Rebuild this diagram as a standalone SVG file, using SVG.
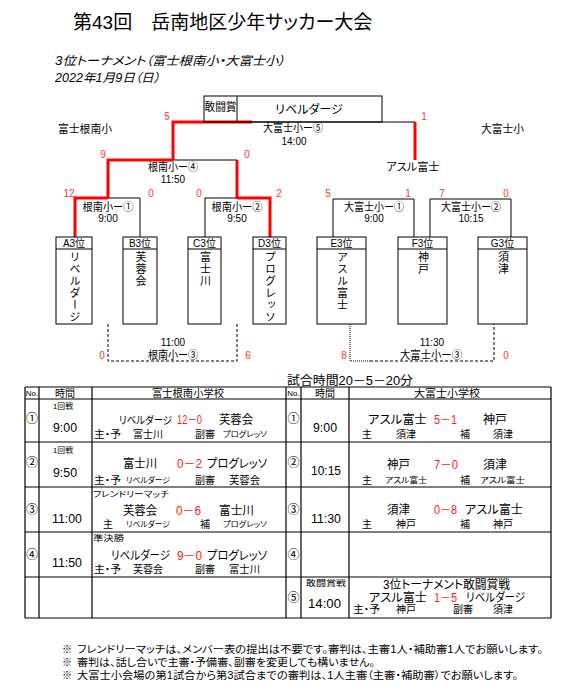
<svg xmlns="http://www.w3.org/2000/svg" width="566" height="699" viewBox="0 0 566 699">
<style>
text{font-family:"Liberation Sans","Noto Sans CJK JP",sans-serif;fill:#000;font-feature-settings:"palt"}
.ttl{font-size:19px}
.sub{font-size:12px;font-style:italic}
.l11{font-size:11px}
.l10{font-size:10px}
.l12{font-size:12px}
.sm{font-size:8px}
.tm{font-size:13px}
.sc{font-size:10px;fill:#ff3333;text-anchor:middle}
.rd{fill:#ff2020}
.c{text-anchor:middle}
.v{font-size:11px;writing-mode:vertical-rl;letter-spacing:1px}
.bk{stroke:#000;stroke-width:1;fill:none}
.red{stroke:#ff0000;stroke-width:3;fill:none}
.dash{stroke:#000;stroke-width:1;fill:none;stroke-dasharray:3,2}
.dot{stroke:#000;stroke-width:1;fill:none;stroke-dasharray:1,1}
.grid{stroke:#000;stroke-width:1.2;fill:none}
</style>
<rect width="566" height="699" fill="#fff"/>
<g id="title">
<text class="ttl" x="73" y="28.5">第43回　岳南地区少年サッカー大会</text>
<text class="sub" x="55" y="64.5" textLength="230" lengthAdjust="spacingAndGlyphs">3位トーナメント（富士根南小・大富士小）</text>
<text class="sub" x="55" y="81.5" textLength="105" lengthAdjust="spacingAndGlyphs">2022年1月9日（日）</text>
</g>
<g id="connectors">
<path class="bk" d="M252,122 H415"/>
<path class="red" d="M173,160 V122 H252"/>
<path class="red" d="M415,122 V160"/>
<path class="bk" d="M173,160 H237"/>
<path class="red" d="M108,198 V160 H173"/>
<path class="red" d="M237,160 V198"/>
<path class="bk" d="M108,198 H140 V237"/>
<path class="red" d="M75,237 V198 H108"/>
<path class="bk" d="M205,237 V198 H237"/>
<path class="red" d="M237,198 H270 V237"/>
<path class="bk" d="M333,237 V199 H414 V237"/>
<path class="bk" d="M430,237 V199 H511 V237"/>
<path class="dash" d="M108,324 V361 H237 V324"/>
<path class="dot" d="M350,324 V361 H370"/>
<path class="dash" d="M370,361 H494 V324"/>
</g>
<g id="final">
<rect class="bk" x="204" y="96" width="178" height="26"/>
<line class="bk" x1="237" y1="96" x2="237" y2="122"/>
<text class="l11" x="204.5" y="111" textLength="32" lengthAdjust="spacingAndGlyphs">敢闘賞</text>
<text class="l12 c" x="309" y="113.5">リベルダージ</text>
<text class="l11 c" x="293" y="132" textLength="60" lengthAdjust="spacingAndGlyphs">大富士小ー⑤</text>
<text class="l10 c" x="294" y="144.6">14:00</text>
</g>
<g id="labels">
<text class="l11" x="58" y="133" textLength="54" lengthAdjust="spacingAndGlyphs">富士根南小</text>
<text class="l11" x="481" y="133" textLength="43" lengthAdjust="spacingAndGlyphs">大富士小</text>
<text class="l11 c" x="413" y="171" textLength="53" lengthAdjust="spacingAndGlyphs">アスル富士</text>
</g>
<g id="semi">
<text class="l11 c" x="173" y="171" textLength="50" lengthAdjust="spacingAndGlyphs">根南小ー④</text>
<text class="l10 c" x="173" y="182.6">11:50</text>
</g>
<g id="r1">
<text class="l11 c" x="108" y="211" textLength="51" lengthAdjust="spacingAndGlyphs">根南小ー①</text>
<text class="l10 c" x="108" y="221.6">9:00</text>
<text class="l11 c" x="237" y="211" textLength="51" lengthAdjust="spacingAndGlyphs">根南小ー②</text>
<text class="l10 c" x="237" y="221.6">9:50</text>
<text class="l11 c" x="374" y="211" textLength="60" lengthAdjust="spacingAndGlyphs">大富士小ー①</text>
<text class="l10 c" x="374" y="221.6">9:00</text>
<text class="l11 c" x="471" y="211" textLength="60" lengthAdjust="spacingAndGlyphs">大富士小ー②</text>
<text class="l10 c" x="471" y="221.6">10:15</text>
</g>
<g id="scores">
<text class="sc" x="167" y="119.6">5</text>
<text class="sc" x="424" y="119.6">1</text>
<text class="sc" x="103" y="157.6">9</text>
<text class="sc" x="247" y="157.6">0</text>
<text class="sc" x="69" y="196.6">12</text>
<text class="sc" x="151" y="196.6">0</text>
<text class="sc" x="199" y="196.6">0</text>
<text class="sc" x="279" y="196.6">2</text>
<text class="sc" x="328" y="196.6">5</text>
<text class="sc" x="408" y="196.6">1</text>
<text class="sc" x="442" y="196.6">7</text>
<text class="sc" x="506" y="196.6">0</text>
</g>
<g id="teamA3">
<rect class="bk" x="56" y="237" width="36" height="87"/><line class="bk" x1="56" y1="249" x2="92" y2="249"/>
<text class="l10 c" x="74" y="246.7">A3位</text><text class="v" x="74" y="251">リベルダージ</text>
</g>
<g id="teamB3">
<rect class="bk" x="123" y="237" width="34" height="87"/><line class="bk" x1="123" y1="249" x2="157" y2="249"/>
<text class="l10 c" x="140" y="246.7">B3位</text><text class="v" x="140" y="251">芙蓉会</text>
</g>
<g id="teamC3">
<rect class="bk" x="188" y="237" width="33" height="87"/><line class="bk" x1="188" y1="249" x2="221" y2="249"/>
<text class="l10 c" x="204.5" y="246.7">C3位</text><text class="v" x="204.5" y="251">富士川</text>
</g>
<g id="teamD3">
<rect class="bk" x="253" y="237" width="33" height="87"/><line class="bk" x1="253" y1="249" x2="286" y2="249"/>
<text class="l10 c" x="269.5" y="246.7">D3位</text><text class="v" x="269.5" y="251">プログレッソ</text>
</g>
<g id="teamE3">
<rect class="bk" x="317" y="237" width="49" height="87"/><line class="bk" x1="317" y1="249" x2="366" y2="249"/>
<text class="l10 c" x="341.5" y="246.7">E3位</text><text class="v" x="341.5" y="251">アスル富士</text>
</g>
<g id="teamF3">
<rect class="bk" x="398" y="237" width="49" height="87"/><line class="bk" x1="398" y1="249" x2="447" y2="249"/>
<text class="l10 c" x="422.5" y="246.7">F3位</text><text class="v" x="422.5" y="251">神戸</text>
</g>
<g id="teamG3">
<rect class="bk" x="478" y="237" width="49" height="87"/><line class="bk" x1="478" y1="249" x2="527" y2="249"/>
<text class="l10 c" x="502.5" y="246.7">G3位</text><text class="v" x="502.5" y="251">須津</text>
</g>
<g id="third">
<text class="l10 c" x="173" y="345.6">11:00</text>
<text class="l11 c" x="173" y="359" textLength="50" lengthAdjust="spacingAndGlyphs">根南小ー③</text>
<text class="sc" x="102" y="358.6">0</text>
<text class="sc" x="248" y="358.6">6</text>
<text class="l10 c" x="432" y="345.6">11:30</text>
<text class="l11 c" x="431" y="359" textLength="62" lengthAdjust="spacingAndGlyphs">大富士小ー③</text>
<text class="sc" x="344" y="358.6">8</text>
<text class="sc" x="506" y="358.6">0</text>
</g>
<g id="table">
<text class="l12" x="287" y="385" textLength="126" lengthAdjust="spacingAndGlyphs">試合時間20－5－20分</text>
<path class="grid" d="M25,387 H551 M25,399 H551 M25,442 H551 M25,487 H551 M25,532 H551 M25,577 H551 M25,618 H551 M25,387 V618 M39,387 V618 M92,387 V618 M286,387 V618 M301,387 V618 M349,387 V618 M551,387 V618"/>
<text class="sm c" x="32" y="396">No.</text>
<text class="l10 c" x="65" y="397">時間</text>
<text class="l10 c" x="188" y="397" textLength="72" lengthAdjust="spacingAndGlyphs">富士根南小学校</text>
<text class="sm c" x="293.5" y="396">No.</text>
<text class="l10 c" x="325" y="397">時間</text>
<text class="l10 c" x="447" y="397" textLength="66" lengthAdjust="spacingAndGlyphs">大富士小学校</text>

<text class="sm" x="53" y="409" textLength="20" lengthAdjust="spacingAndGlyphs">1回戦</text>
<text class="l12 c" x="32" y="423">①</text>
<text class="tm" x="53" y="431.7" textLength="24" lengthAdjust="spacingAndGlyphs">9:00</text>
<text x="119" y="423.5" style="font-size:10.5px" textLength="53" lengthAdjust="spacingAndGlyphs">リベルダージ</text>
<text class="l12 rd" x="177" y="423.5" textLength="25" lengthAdjust="spacingAndGlyphs">12－0</text>
<text class="l12" x="219" y="423.5" textLength="34" lengthAdjust="spacingAndGlyphs">芙蓉会</text>
<text class="l10" x="94" y="437.8" textLength="27" lengthAdjust="spacingAndGlyphs">主・予</text>
<text class="l10" x="133" y="437.8" textLength="30" lengthAdjust="spacingAndGlyphs">富士川</text>
<text class="l10" x="195" y="437.8" textLength="20" lengthAdjust="spacingAndGlyphs">副審</text>
<text class="sm" x="223" y="437" textLength="44" lengthAdjust="spacingAndGlyphs">プログレッソ</text>

<text class="sm" x="53" y="453" textLength="20" lengthAdjust="spacingAndGlyphs">1回戦</text>
<text class="l12 c" x="32" y="467">②</text>
<text class="tm" x="53" y="476.7" textLength="24" lengthAdjust="spacingAndGlyphs">9:50</text>
<text class="l12" x="123" y="467.5" textLength="34" lengthAdjust="spacingAndGlyphs">富士川</text>
<text class="l12 rd" x="177" y="467.5" textLength="25" lengthAdjust="spacingAndGlyphs">0－2</text>
<text class="l12" x="207" y="467.5" textLength="60" lengthAdjust="spacingAndGlyphs">プログレッソ</text>
<text class="l10" x="94" y="483.8" textLength="27" lengthAdjust="spacingAndGlyphs">主・予</text>
<text class="sm" x="126" y="483" textLength="44" lengthAdjust="spacingAndGlyphs">リベルダージ</text>
<text class="l10" x="195" y="483.8" textLength="20" lengthAdjust="spacingAndGlyphs">副審</text>
<text class="l10" x="229" y="483.8" textLength="31" lengthAdjust="spacingAndGlyphs">芙蓉会</text>

<text class="sm" x="93" y="497" textLength="76" lengthAdjust="spacingAndGlyphs">フレンドリーマッチ</text>
<text class="l12 c" x="32" y="514">③</text>
<text class="tm" x="52" y="522.7" textLength="30" lengthAdjust="spacingAndGlyphs">11:00</text>
<text class="l12" x="123" y="514.5" textLength="34" lengthAdjust="spacingAndGlyphs">芙蓉会</text>
<text class="l12 rd" x="176" y="514.5" textLength="25" lengthAdjust="spacingAndGlyphs">0－6</text>
<text class="l12" x="219" y="514.5" textLength="35" lengthAdjust="spacingAndGlyphs">富士川</text>
<text class="l10" x="103" y="527.8">主</text>
<text class="sm" x="126" y="527" textLength="44" lengthAdjust="spacingAndGlyphs">リベルダージ</text>
<text class="l10" x="200" y="527.8">補</text>
<text class="sm" x="223" y="527" textLength="44" lengthAdjust="spacingAndGlyphs">プログレッソ</text>

<text class="sm" x="93" y="541" textLength="31" lengthAdjust="spacingAndGlyphs">準決勝</text>
<text class="l12 c" x="32" y="559">④</text>
<text class="tm" x="52" y="566.7" textLength="30" lengthAdjust="spacingAndGlyphs">11:50</text>
<text class="l12" x="111" y="559.5" textLength="59" lengthAdjust="spacingAndGlyphs">リベルダージ</text>
<text class="l12 rd" x="177" y="559.5" textLength="25" lengthAdjust="spacingAndGlyphs">9－0</text>
<text class="l12" x="207" y="559.5" textLength="60" lengthAdjust="spacingAndGlyphs">プログレッソ</text>
<text class="l10" x="94" y="572.8" textLength="27" lengthAdjust="spacingAndGlyphs">主・予</text>
<text class="l10" x="133" y="572.8" textLength="30" lengthAdjust="spacingAndGlyphs">芙蓉会</text>
<text class="l10" x="195" y="572.8" textLength="20" lengthAdjust="spacingAndGlyphs">副審</text>
<text class="l10" x="229" y="572.8" textLength="31" lengthAdjust="spacingAndGlyphs">富士川</text>

<text class="l12 c" x="293.5" y="423">①</text>
<text class="tm" x="313" y="431.7" textLength="24" lengthAdjust="spacingAndGlyphs">9:00</text>
<text class="l12" x="368" y="423.5" textLength="59" lengthAdjust="spacingAndGlyphs">アスル富士</text>
<text class="l12 rd" x="434" y="423.5" textLength="23" lengthAdjust="spacingAndGlyphs">5－1</text>
<text class="l12" x="483" y="423.5" textLength="24" lengthAdjust="spacingAndGlyphs">神戸</text>
<text class="l10" x="362" y="437.8">主</text>
<text class="l10" x="396" y="437.8" textLength="20" lengthAdjust="spacingAndGlyphs">須津</text>
<text class="l10" x="460" y="437.8">補</text>
<text class="l10" x="493" y="437.8" textLength="20" lengthAdjust="spacingAndGlyphs">須津</text>

<text class="l12 c" x="293.5" y="467">②</text>
<text class="tm" x="311" y="474.7" textLength="30" lengthAdjust="spacingAndGlyphs">10:15</text>
<text class="l12" x="387" y="468.5" textLength="23" lengthAdjust="spacingAndGlyphs">神戸</text>
<text class="l12 rd" x="434" y="468.5" textLength="24" lengthAdjust="spacingAndGlyphs">7－0</text>
<text class="l12" x="483" y="468.5" textLength="24" lengthAdjust="spacingAndGlyphs">須津</text>
<text class="l10" x="362" y="483.8">主</text>
<text class="sm" x="385" y="483" textLength="42" lengthAdjust="spacingAndGlyphs">アスル富士</text>
<text class="l10" x="460" y="483.8">補</text>
<text class="sm" x="480" y="483" textLength="45" lengthAdjust="spacingAndGlyphs">アスル富士</text>

<text class="l12 c" x="293.5" y="514">③</text>
<text class="tm" x="311" y="522.7" textLength="30" lengthAdjust="spacingAndGlyphs">11:30</text>
<text class="l12" x="387" y="513.5" textLength="23" lengthAdjust="spacingAndGlyphs">須津</text>
<text class="l12 rd" x="434" y="513.5" textLength="23" lengthAdjust="spacingAndGlyphs">0－8</text>
<text class="l12" x="465" y="513.5" textLength="58" lengthAdjust="spacingAndGlyphs">アスル富士</text>
<text class="l10" x="362" y="527.8">主</text>
<text class="l10" x="396" y="527.8" textLength="20" lengthAdjust="spacingAndGlyphs">神戸</text>
<text class="l10" x="460" y="527.8">補</text>
<text class="l10" x="493" y="527.8" textLength="20" lengthAdjust="spacingAndGlyphs">神戸</text>

<text class="l12 c" x="293.5" y="559">④</text>

<text class="sm" x="306" y="586" textLength="40" lengthAdjust="spacingAndGlyphs">敢闘賞戦</text>
<text class="l12 c" x="293.5" y="602">⑤</text>
<text class="tm" x="308" y="607.7" textLength="33" lengthAdjust="spacingAndGlyphs">14:00</text>
<text class="l12" x="383" y="588.5" textLength="127" lengthAdjust="spacingAndGlyphs">3位トーナメント敢闘賞戦</text>
<text class="l12" x="369" y="601.5" textLength="58" lengthAdjust="spacingAndGlyphs">アスル富士</text>
<text class="l12 rd" x="434" y="601.5" textLength="23" lengthAdjust="spacingAndGlyphs">1－5</text>
<text class="l12" x="466" y="601.5" textLength="59" lengthAdjust="spacingAndGlyphs">リベルダージ</text>
<text class="l10" x="353" y="612.8" textLength="27" lengthAdjust="spacingAndGlyphs">主・予</text>
<text class="l10" x="396" y="612.8" textLength="20" lengthAdjust="spacingAndGlyphs">神戸</text>
<text class="l10" x="453" y="612.8" textLength="20" lengthAdjust="spacingAndGlyphs">副審</text>
<text class="l10" x="493" y="612.8" textLength="20" lengthAdjust="spacingAndGlyphs">須津</text>
</g>
<g id="notes">
<text class="l10" x="62" y="652.8">※</text>
<text class="l10" x="77" y="652.8" textLength="466" lengthAdjust="spacingAndGlyphs">フレンドリーマッチは、メンバー表の提出は不要です。審判は、主審1人・補助審1人でお願いします。</text>
<text class="l10" x="62" y="665.8">※</text>
<text class="l10" x="77" y="665.8" textLength="298" lengthAdjust="spacingAndGlyphs">審判は、話し合いで主審・予備審、副審を変更しても構いません。</text>
<text class="l10" x="62" y="678.8">※</text>
<text class="l10" x="77" y="678.8" textLength="441" lengthAdjust="spacingAndGlyphs">大富士小会場の第1試合から第3試合までの審判は、1人主審（主審・補助審）でお願いします。</text>
</g>
</svg>
